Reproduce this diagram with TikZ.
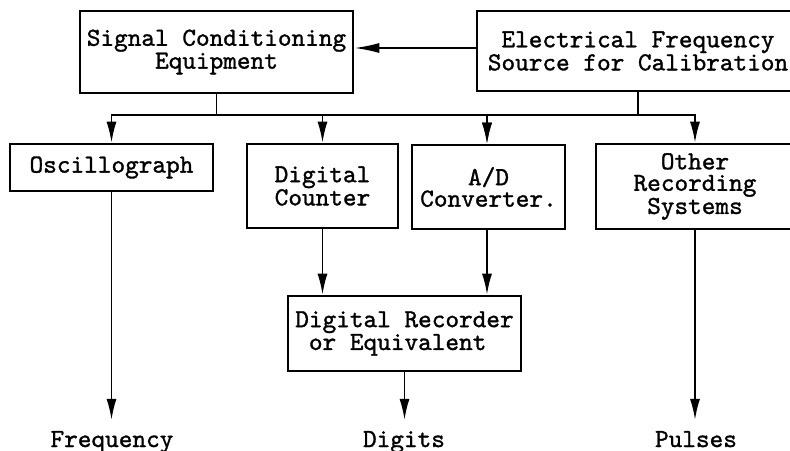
\documentclass[tikz,border=0pt]{standalone}
\usepackage{fontspec}
\usetikzlibrary{arrows.meta}
\newfontfamily\twfont{lmmono10-regular.otf}[FakeBold=1.2]
\begin{document}
\begin{tikzpicture}[x=1pt,y=-1pt,
  box/.style={draw, line width=2.6pt, inner sep=0pt, align=center,
    font=\twfont\fontsize{26}{21.5}\selectfont},
  lbl/.style={inner sep=0pt, font=\twfont\fontsize{26}{21.5}\selectfont},
  conn/.style={line width=1.8pt, -{Latex[length=21pt,width=10pt]}}]
\useasboundingbox (0,0) rectangle (790,450);
\clip (0,0) rectangle (790,450);
\node[box, minimum width=273pt, minimum height=82pt] (sig) at (216.5,52) {Signal Conditioning\\Equipment};
\node[box, minimum width=322pt, minimum height=80pt] (elec) at (638,51) {Electrical Frequency\\Source for Calibration};
\node[box, minimum width=203pt, minimum height=47pt] (osc) at (111.5,167.5) {Oscillograph};
\node[box, minimum width=151pt, minimum height=84pt] (cnt) at (322.5,186) {Digital\\Counter};
\node[box, minimum width=153pt, minimum height=84pt] (ad) at (488.5,187) {A/D\\Converter.};
\node[box, minimum width=198pt, minimum height=85pt] (oth) at (695,186.5) {Other\\Recording\\Systems};
\node[box, align=left, minimum width=233pt, minimum height=75pt] (rec) at (404.5,333.5) {Digital Recorder\\\hphantom{o}or Equivalent};
\node[lbl, anchor=base] (lf) at (112,447) {Frequency};
\node[lbl, anchor=base] (ld) at (404,447) {Digits};
\node[lbl, anchor=base] (lp) at (696,447) {Pulses};
\coordinate (bus) at (0,115);
\draw[conn, -{Latex[length=25pt,width=10pt]}] (elec.west |- 0,48) -- (sig.east |- 0,48);
\draw[conn] (sig.south) -- (sig.south |- bus) -| (osc.north);
\draw[conn] (sig.south) -- (sig.south |- bus) -| (cnt.north);
\draw[conn] (sig.south) -- (sig.south |- bus) -| ([xshift=-1.5pt]ad.north);
\draw[conn] (elec.south) -- (elec.south |- bus) -| ([xshift=-1.5pt]ad.north);
\draw[conn] (elec.south) -- (elec.south |- bus) -| (oth.north);
\draw[conn] (cnt.south) -- (cnt.south |- rec.north);
\draw[conn] ([xshift=-1.5pt]ad.south) -- ([xshift=-1.5pt]ad.south |- rec.north);
\draw[conn, shorten >=11pt] (osc.south) -- (osc.south |- lf.north);
\draw[conn, shorten >=11pt] (rec.south) -- (rec.south |- ld.north);
\draw[conn, shorten >=11pt] (oth.south) -- (oth.south |- lp.north);
\end{tikzpicture}
\end{document}
